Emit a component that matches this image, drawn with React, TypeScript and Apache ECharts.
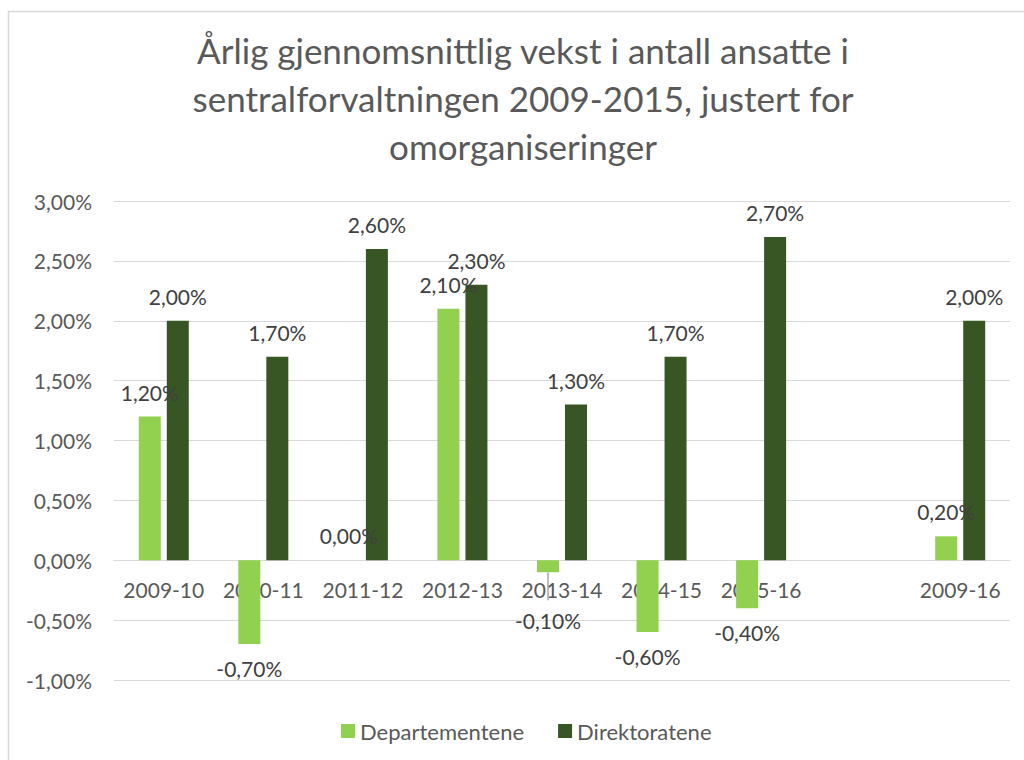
import React, { useEffect, useRef } from "react";
import * as echarts from "echarts";

const categories = ["2009-10", "2010-11", "2011-12", "2012-13", "2013-14", "2014-15", "2015-16", "", "2009-16"];
const departementene: (number | null)[] = [1.2, -0.7, 0.0, 2.1, -0.1, -0.6, -0.4, null, 0.2];
const direktoratene: (number | null)[] = [2.0, 1.7, 2.6, 2.3, 1.3, 1.7, 2.7, null, 2.0];
const titleText = "Årlig gjennomsnittlig vekst i antall ansatte i\nsentralforvaltningen 2009-2015, justert for\nomorganiseringer";

const FONT = "Lato";
const BAR_W = 22;
const BAR_GAP_PX = 6;
const fmt = (v: number) => v.toFixed(2).replace(".", ",") + "%";
const isSmallNeg = (v: number | null) => v !== null && v < 0 && v > -0.3;

function toData(values: (number | null)[]) {
  return values.map((v) =>
    v === null
      ? { value: null, label: { show: false } }
      : {
          value: v,
          label: {
            position: v < 0 ? "bottom" : "top",
            // small negative bars: push label below the category labels
            distance: isSmallNeg(v) ? 38 : 14,
          },
        }
  );
}

export default function App() {
  const ref = useRef<HTMLDivElement>(null);
  useEffect(() => {
    document.body.style.margin = "0";
    if (!ref.current) return;
    const chart = echarts.init(ref.current, null, { renderer: "svg" });
    const labelCfg = {
      show: true,
      distance: 14,
      color: "#404040",
      fontSize: 21,
      fontFamily: FONT,
      formatter: (p: any) => fmt(p.value),
    };
    const border = {
      type: "rect",
      shape: { x: 8.5, y: 11.5, width: 1100, height: 800 },
      style: { fill: "none", stroke: "#d9d9d9", lineWidth: 1.5 },
      silent: true,
      z: -1,
    };
    chart.setOption({
      animation: false,
      backgroundColor: "#ffffff",
      textStyle: { fontFamily: FONT },
      title: {
        text: titleText,
        left: 518,
        top: 21,
        textAlign: "center",
        textStyle: {
          fontFamily: FONT,
          fontSize: 35,
          fontWeight: "normal",
          color: "#595959",
          lineHeight: 48,
        },
      },
      graphic: [border],
      legend: {
        left: 341,
        top: 720,
        padding: 0,
        itemWidth: 14,
        itemHeight: 14,
        itemGap: 34,
        icon: "rect",
        textStyle: { fontFamily: FONT, fontSize: 22, color: "#595959" },
        data: ["Departementene", "Direktoratene"],
      },
      grid: { left: 114, right: 14, top: 201, bottom: 80, containLabel: false },
      xAxis: {
        type: "category",
        data: categories,
        offset: -120,
        axisLine: { onZero: false, lineStyle: { color: "#d9d9d9", width: 1 } },
        axisTick: { show: false },
        axisLabel: {
          interval: 0,
          margin: 19,
          fontSize: 21,
          fontFamily: FONT,
          color: "#595959",
        },
        z: 0,
      },
      yAxis: {
        type: "value",
        min: -1,
        max: 3,
        interval: 0.5,
        axisLine: { show: false },
        axisTick: { show: false },
        splitLine: { lineStyle: { color: "#d9d9d9", width: 1 } },
        axisLabel: {
          margin: 22,
          fontSize: 21,
          fontFamily: FONT,
          color: "#595959",
          formatter: (v: number) => fmt(v),
        },
      },
      series: [
        {
          name: "Departementene",
          type: "bar",
          data: toData(departementene),
          barWidth: BAR_W,
          barGap: `${(BAR_GAP_PX / BAR_W) * 100}%`,
          itemStyle: { color: "#92d050" },
          label: labelCfg,
          z: 3,
        },
        {
          name: "Direktoratene",
          type: "bar",
          data: toData(direktoratene),
          barWidth: BAR_W,
          barGap: `${(BAR_GAP_PX / BAR_W) * 100}%`,
          itemStyle: { color: "#375623" },
          label: labelCfg,
          z: 2,
        },
      ],
    });

    // leader lines for labels that were moved away from their bars
    const leaders: any[] = [];
    departementene.forEach((v, i) => {
      if (!isSmallNeg(v)) return;
      const p = chart.convertToPixel({ seriesIndex: 0 }, [i, v as number]) as number[];
      const x = p[0] - (BAR_W + BAR_GAP_PX) / 2;
      leaders.push({
        type: "line",
        shape: { x1: x, y1: p[1], x2: x, y2: p[1] + 28 },
        style: { stroke: "#a6a6a6", lineWidth: 1.5 },
        silent: true,
        z: 1,
      });
    });
    if (leaders.length) chart.setOption({ graphic: [border, ...leaders] });

    return () => chart.dispose();
  }, []);
  return <div ref={ref} style={{ width: 1024, height: 760 }} />;
}
